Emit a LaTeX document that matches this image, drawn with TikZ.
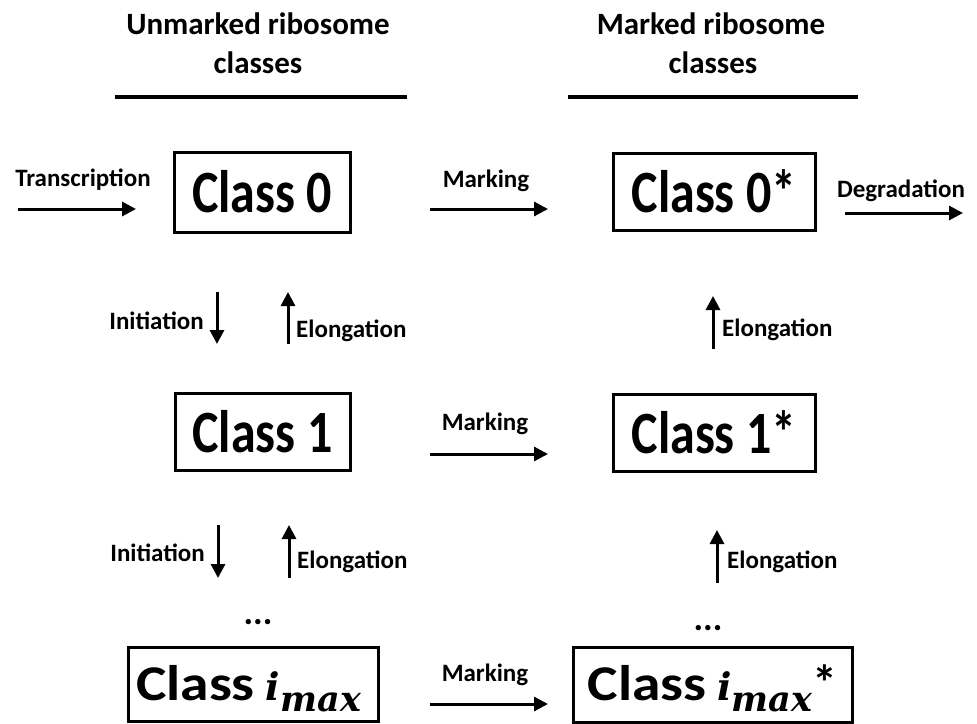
\documentclass[tikz,border=0pt]{standalone}
\usepackage{fontspec}
\setmainfont{Carlito}
\newfontfamily\mfnt{DejaVu Serif}
\usepackage{graphicx}
\usetikzlibrary{arrows.meta}
\newcommand{\clsy}[1]{\scalebox{1}[1.2]{#1}}
\newcommand{\imx}{\scalebox{1.15}[1]{Class}\hspace{11pt}{\mfnt\bfseries\itshape\fontsize{38}{38}\selectfont i\raisebox{-11pt}{\fontsize{35}{35}\selectfont max}}}
\begin{document}
\begin{tikzpicture}[x=1pt,y=-1pt,
 box/.style={draw, line width=3pt, inner sep=0pt, font=\bfseries\fontsize{50}{50}\selectfont},
 lbl/.style={font=\bfseries\fontsize{25}{25}\selectfont, inner sep=0pt},
 hdr/.style={font=\bfseries\fontsize{31}{31}\selectfont, inner sep=0pt},
 dotsty/.style={font=\bfseries\fontsize{36}{36}\selectfont, inner sep=0pt},
 arr/.style={line width=3pt, -{Triangle[length=14pt,width=14pt]}},
 hline/.style={line width=3.5pt}]
\useasboundingbox (0,0) rectangle (977,723);
% headers
\node[hdr, anchor=base] (h1a) at (258,34) {Unmarked ribosome};
\node[hdr, anchor=base] (h1b) at (258,73) {classes};
\node[hdr, anchor=base] (h2a) at (711,34) {Marked ribosome};
\node[hdr, anchor=base] (h2b) at (713,73) {classes};
\coordinate (u1) at (115,97); \coordinate (u2) at (407,97);
\coordinate (u3) at (568,97); \coordinate (u4) at (858,97);
\draw[hline] (u1) -- (u2);
\draw[hline] (u3) -- (u4);
% boxes
\node[box, minimum width=176pt, minimum height=80pt] (c0) at (262,192) {\clsy{Class 0}};
\node[box, minimum width=202pt, minimum height=77pt] (c0s) at (714,191.5) {\clsy{Class 0*}};
\node[box, minimum width=175pt, minimum height=77pt] (c1) at (262.5,431.5) {\clsy{Class 1}};
\node[box, minimum width=202pt, minimum height=77pt] (c1s) at (714,432.5) {\clsy{Class 1*}};
\node[box, minimum width=250pt, minimum height=74pt, text height=32pt, text depth=0pt] (cm) at (253,684) {\imx\hspace*{9pt}};
\node[box, minimum width=279pt, minimum height=75pt, text height=32pt, text depth=0pt] (cms) at (712.5,684.5) {\imx*};
% dots
\node[dotsty] (d1) at (258,622) {...};
\node[dotsty] (d2) at (708,628) {...};
% transcription / degradation
\node[lbl, anchor=base] (tr) at (83,186) {Transcription};
\coordinate (t1) at (18,209); \coordinate (t2) at (136,209);
\draw[arr] (t1) -- (t2);
\node[lbl, anchor=base] (dg) at (901,197) {Degradation};
\coordinate (g1) at (845,213); \coordinate (g2) at (963,213);
\draw[arr] (g1) -- (g2);
% marking
\node[lbl, anchor=base] (mk0) at (486,187) {Marking};
\coordinate (m0a) at (430,209); \coordinate (m0b) at (548,209);
\draw[arr] (m0a) -- (m0b);
\node[lbl, anchor=base] (mk1) at (485,430) {Marking};
\coordinate (m1a) at (430,454); \coordinate (m1b) at (548,454);
\draw[arr] (m1a) -- (m1b);
\node[lbl, anchor=base] (mk2) at (485,681) {Marking};
\coordinate (m2a) at (430,704); \coordinate (m2b) at (548,704);
\draw[arr] (m2a) -- (m2b);
% initiation / elongation row 1
\node[lbl, anchor=base east] (in1) at (204,329) {Initiation};
\coordinate (i1a) at (217,292); \coordinate (i1b) at (217,344);
\draw[arr] (i1a) -- (i1b);
\coordinate (e1a) at (288,344); \coordinate (e1b) at (288,292);
\draw[arr] (e1a) -- (e1b);
\node[lbl, anchor=base west] (el1) at (296,337) {Elongation};
\coordinate (r1a) at (713,349); \coordinate (r1b) at (713,296);
\draw[arr] (r1a) -- (r1b);
\node[lbl, anchor=base west] (er1) at (722,336) {Elongation};
% row 2
\node[lbl, anchor=base east] (in2) at (205,561) {Initiation};
\coordinate (i2a) at (218,525); \coordinate (i2b) at (218,578);
\draw[arr] (i2a) -- (i2b);
\coordinate (e2a) at (289,578); \coordinate (e2b) at (289,525);
\draw[arr] (e2a) -- (e2b);
\node[lbl, anchor=base west] (el2) at (297,568) {Elongation};
\coordinate (r2a) at (717,583); \coordinate (r2b) at (717,530);
\draw[arr] (r2a) -- (r2b);
\node[lbl, anchor=base west] (er2) at (727,568) {Elongation};
\end{tikzpicture}
\end{document}
